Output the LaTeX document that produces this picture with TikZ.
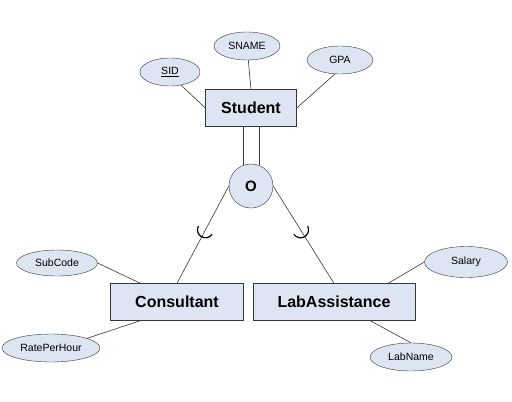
\documentclass[tikz,border=0pt]{standalone}
\usepackage{fontspec}
\setmainfont{Liberation Sans}
\usetikzlibrary{shapes.geometric}
\definecolor{boxfill}{RGB}{221,229,242}
\definecolor{edgegray}{RGB}{55,55,55}

\begin{document}
\begin{tikzpicture}
  [x=1pt, y=-1pt,
   entity/.style={rectangle, draw=edgegray, fill=boxfill, minimum height=37pt, inner sep=0pt, font=\fontsize{16}{18}\selectfont\bfseries},
   attr/.style={ellipse, draw=edgegray, fill=boxfill, inner sep=0pt, minimum height=28pt, font=\fontsize{10.5}{12}\selectfont},
   link/.style={draw=edgegray, line width=0.6pt},
   subsetmark/.style={draw=black, line width=1.2pt, line cap=round}]
  \useasboundingbox[fill=white] (0,0) rectangle (512,402);
  % Superclass with its attributes
  \node[entity, minimum width=91pt] (stu) at (251,108) {Student};
  \node[attr, minimum width=60pt] (sid)   at (170,72) {\underline{SID}};
  \node[attr, minimum width=66pt] (sname) at (247,46) {SNAME};
  \node[attr, minimum width=66pt] (gpa)   at (340,60) {GPA};
  \draw[link] (sid.-50) -- (stu.west) (sname) -- (stu.north) (gpa.250) -- (stu.east);
  % Disjointness circle, total participation
  \node[circle, draw=edgegray, fill=boxfill, minimum size=44pt, inner sep=0pt, font=\fontsize{15}{17}\selectfont\bfseries] (o) at (251,186) {O};
  \draw[link] (stu.south -| o.111) -- (o.111) (stu.south -| o.69) -- (o.69);
  % Subclasses
  \node[entity, minimum width=133pt] (cons) at (177,302) {Consultant};
  \node[entity, minimum width=162pt] (lab)  at (334,302) {LabAssistance};
  \draw[link] (o.west) -- coordinate[pos=0.45] (m1) (cons.north);
  \draw[link] (o.east) -- coordinate[pos=0.45] (m2) (lab.north);
  \draw[subsetmark, shift={(m1)}] (35:8) arc (35:205:8);
  \draw[subsetmark, shift={(m2)}] (-25:8) arc (-25:145:8);
  % Subclass attributes
  \node[attr, minimum width=81pt, minimum height=26pt] (sub)  at (57,263)  {SubCode};
  \node[attr, minimum width=98pt] (rate) at (51,348)  {RatePerHour};
  \node[attr, minimum width=83pt, minimum height=31pt] (sal)  at (466,262) {Salary};
  \node[attr, minimum width=82pt] (lname) at (411,357) {LabName};
  \draw[link] (sub.east) -- ([xshift=30pt]cons.north west)
              (rate.15) -- ([xshift=30pt]cons.south west);
  \draw[link] (sal.west) -- ([xshift=-27pt]lab.north east)
              ([xshift=-45pt]lab.south east) -- (lname.north);
\end{tikzpicture}
\end{document}
